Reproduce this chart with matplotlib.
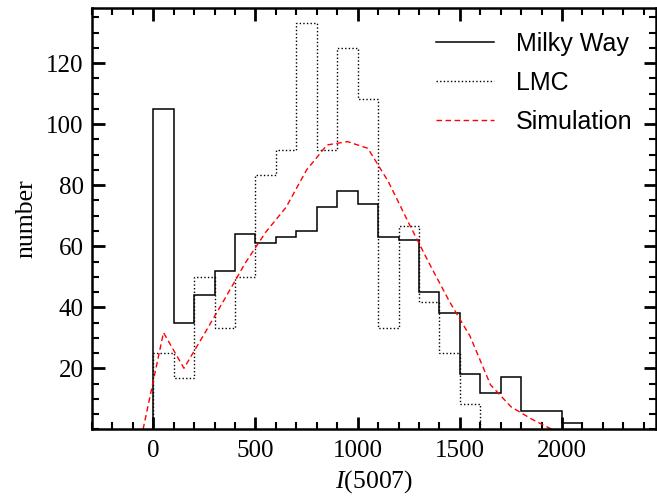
import numpy as np
import matplotlib
matplotlib.use("Agg")
import matplotlib.pyplot as plt
from matplotlib.ticker import MultipleLocator, FixedLocator

plt.rcParams["font.family"] = ["Liberation Serif", "DejaVu Serif"]
plt.rcParams["mathtext.fontset"] = "custom"
plt.rcParams["mathtext.rm"] = "Liberation Serif"
plt.rcParams["mathtext.it"] = "Liberation Serif:italic"

# Histogram bin edges (width 100 in I(5007))
mw_edges = np.arange(0, 2101, 100)
lmc_edges = np.arange(0, 1601, 100)

# Milky Way PN counts per bin
milky_way = [105, 35, 44, 52, 64, 61, 63, 65, 73, 78, 74,
             63, 62, 45, 38, 18, 12, 17, 6, 6, 2]

# LMC PN counts per bin (rescaled)
lmc = [25.0, 16.7, 50.0, 33.3, 50.0, 83.3, 91.7, 133.3, 91.7, 125.0,
       108.3, 33.3, 66.7, 41.7, 25.0, 8.3]

# Simulated distribution, sampled at bin centres
sim_x = [-50, 50, 150, 250, 350, 450, 550, 650, 750, 850, 950, 1050,
         1150, 1250, 1350, 1450, 1550, 1650, 1750, 1850, 1950]
sim_y = [0.0, 31.7, 20.0, 31.3, 42.8, 54.5, 64.6, 72.8, 85.0, 93.2, 94.3,
         92.1, 81.2, 67.6, 54.4, 41.8, 30.5, 14.6, 7.4, 3.4, 0.0]

fig = plt.figure(figsize=(6.57, 5.0), dpi=100)
ax = fig.add_axes([0.140, 0.1414, 0.8585, 0.8420])

ax.stairs(milky_way, mw_edges, baseline=0, fill=False, color="black",
          linewidth=1.1, label="Milky Way")
ax.stairs(lmc, lmc_edges, baseline=0, fill=False, color="black",
          linewidth=1.0, linestyle=(0, (1, 1.6)), label="LMC")
ax.plot(sim_x, sim_y, color="red", linewidth=1.0,
        linestyle=(0, (4, 2.5)), label="Simulation")

ax.set_xlim(-300, 2460)
ax.set_ylim(0, 138)

ax.xaxis.set_major_locator(FixedLocator([0, 500, 1000, 1500, 2000]))
ax.xaxis.set_minor_locator(MultipleLocator(100))
ax.yaxis.set_major_locator(FixedLocator([20, 40, 60, 80, 100, 120]))
ax.yaxis.set_minor_locator(MultipleLocator(5))

ax.tick_params(which="both", direction="in", top=True, right=True,
               labelsize=18)
ax.tick_params(which="major", length=9, width=2.0, pad=6)
ax.tick_params(axis="x", which="major", pad=8)
ax.tick_params(which="minor", length=5, width=1.5)
for sp in ax.spines.values():
    sp.set_linewidth(1.8)

ax.set_xlabel("$I$(5007)", fontsize=18.5, labelpad=4)
ax.set_ylabel("number", fontsize=18.5, labelpad=6)

leg = ax.legend(loc="upper right", frameon=False,
                prop={"family": "Liberation Sans", "size": 18},
                handlelength=2.3, handletextpad=0.9, labelspacing=0.6,
                borderaxespad=0.3, bbox_to_anchor=(0.99, 0.985))

fig.savefig("out.png", dpi=100)
